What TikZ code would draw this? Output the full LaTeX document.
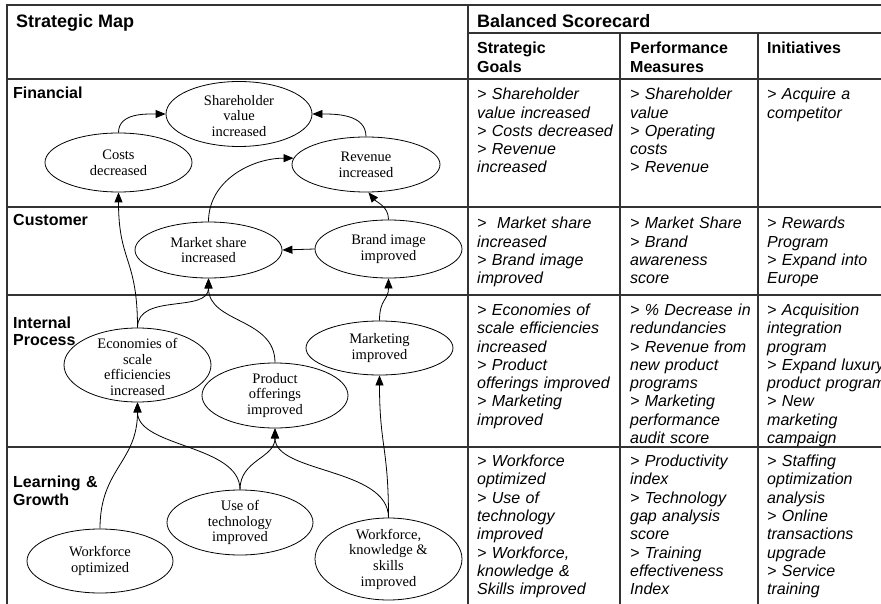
\documentclass[tikz,border=0pt]{standalone}
\usepackage{fontspec}
\setmainfont{Liberation Serif}
\newfontfamily\arialf{Liberation Sans}
\usetikzlibrary{shapes.geometric,arrows.meta}
\begin{document}
\begin{tikzpicture}[x=1pt,y=-1pt,
  ell/.style={draw, ellipse, inner sep=0pt, line width=0.8pt},
  lbl/.style={font=\fontsize{14.5}{15.7}\selectfont, align=center, inner sep=0pt},
  hdr/.style={font=\arialf\bfseries\fontsize{18}{20}\selectfont, anchor=base west, inner sep=0pt},
  rowlbl/.style={font=\arialf\bfseries\fontsize{16}{17.5}\selectfont, anchor=base west, inner sep=0pt, text width=150pt, align=left},
  colhdr/.style={font=\arialf\bfseries\fontsize{16}{18.3}\selectfont, anchor=base west, inner sep=0pt, text width=130pt, align=left},
  cell/.style={font=\arialf\itshape\fontsize{16}{18.3}\selectfont, anchor=base west, inner sep=0pt, text width=200pt, align=left},
  grid/.style={line width=1.4pt, draw=black!80},
  arr/.style={line width=0.8pt, -{Triangle[length=10pt,width=8pt]}}]
\useasboundingbox (0,0) rectangle (881,604);
% table grid
\draw[grid] (7,604) -- (7,5) -- (881,5);
\draw[grid] (468,5) -- (468,604);
\draw[grid] (468,33) -- (881,33);
\draw[grid] (7,79) -- (881,79);
\draw[grid] (620,33) -- (620,604);
\draw[grid] (758,33) -- (758,604);
\draw[grid] (7,207) -- (881,207);
\draw[grid] (7,295) -- (881,295);
\draw[grid] (7,447) -- (881,447);
% headers
\node[hdr] (hmap) at (16,28) {Strategic Map};
\node[hdr] (hbsc) at (477,28) {Balanced Scorecard};
\node[colhdr] (hgoal) at (477,54) {Strategic\\Goals};
\node[colhdr] (hperf) at (630,54) {Performance\\Measures};
\node[colhdr] (hinit) at (767,54) {Initiatives};
% row labels
\node[rowlbl] (rfin) at (13,98.5) {Financial};
\node[rowlbl] (rcus) at (13,225.5) {Customer};
\node[rowlbl] (rint) at (13,328) {Internal\\Process};
\node[rowlbl, font=\arialf\bfseries\fontsize{16}{18}\selectfont] (rlea) at (13,487.5) {Learning \&\\Growth};
% cells
\node[cell] (c11) at (477,99.8) {> Shareholder\\value increased\\> Costs decreased\\> Revenue\\increased};
\node[cell] (c12) at (630,99.8) {> Shareholder\\value\\> Operating\\costs\\> Revenue};
\node[cell] (c13) at (767,99.8) {> Acquire a\\competitor};
\node[cell] (c21) at (477,228.8) {>\ \ Market share\\increased\\> Brand image\\improved};
\node[cell] (c22) at (630,228.8) {> Market Share\\> Brand\\awareness\\score};
\node[cell] (c23) at (767,228.8) {> Rewards\\Program\\> Expand into\\Europe};
\node[cell] (c31) at (477,315.5) {> Economies of\\scale efficiencies\\increased\\> Product\\offerings improved\\> Marketing\\improved};
\node[cell] (c32) at (630,315.5) {> \% Decrease in\\redundancies\\> Revenue from\\new product\\programs\\> Marketing\\performance\\audit score};
\node[cell] (c33) at (767,315.5) {> Acquisition\\integration\\program\\> Expand luxury\\product program\\> New\\marketing\\campaign};
\node[cell] (c41) at (477,466.5) {> Workforce\\optimized\\> Use of\\technology\\improved\\> Workforce,\\knowledge \&\\Skills improved};
\node[cell] (c42) at (630,466.5) {> Productivity\\index\\> Technology\\gap analysis\\score\\> Training\\effectiveness\\Index};
\node[cell] (c43) at (767,466.5) {> Staffing\\optimization\\analysis\\> Online\\transactions\\upgrade\\> Service\\training};
% ellipses
\node[ell, minimum width=146pt, minimum height=65pt] (sh) at (239,114) {};
\node[ell, minimum width=147pt, minimum height=59pt] (cost) at (118.5,162.5) {};
\node[ell, minimum width=148pt, minimum height=55pt] (rev) at (366,164.5) {};
\node[ell, minimum width=147pt, minimum height=56pt] (ms) at (208.5,250) {};
\node[ell, minimum width=147pt, minimum height=58pt] (bi) at (388.5,249) {};
\node[ell, minimum width=147pt, minimum height=74pt] (eco) at (137.5,365) {};
\node[ell, minimum width=146pt, minimum height=65pt] (po) at (275,395.5) {};
\node[ell, minimum width=147pt, minimum height=54pt] (mk) at (379.5,348) {};
\node[ell, minimum width=146pt, minimum height=65pt] (use) at (240,522.5) {};
\node[ell, minimum width=146pt, minimum height=64pt] (wo) at (100,561) {};
\node[ell, minimum width=147pt, minimum height=82pt] (wk) at (388.5,559) {};
% ellipse labels
\node[lbl] (tsh) at ([yshift=-2pt]sh.center) {Shareholder\\value\\increased};
\node[lbl] (tcost) at (cost.center) {Costs\\decreased};
\node[lbl] (trev) at (rev.center) {Revenue\\increased};
\node[lbl] (tms) at (ms.center) {Market share\\increased};
\node[lbl] (tbi) at (bi.center) {Brand image\\improved};
\node[lbl] (teco) at ([yshift=-2pt]eco.center) {Economies of\\scale\\efficiencies\\increased};
\node[lbl] (tpo) at (po.center) {Product\\offerings\\improved};
\node[lbl] (tmk) at (mk.center) {Marketing\\improved};
\node[lbl] (tuse) at (use.center) {Use of\\technology\\improved};
\node[lbl] (two) at (wo.center) {Workforce\\optimized};
\node[lbl] (twk) at (wk.center) {Workforce,\\knowledge \&\\skills\\improved};
% connectors
\draw[arr] (cost.north) to[out=90,in=180] (sh.west);
\draw[arr] (rev.north) to[out=90,in=0] (sh.east);
\draw[arr] (ms.north) to[out=90,in=180] (rev.175);
\draw[arr] (bi.north) to[out=90,in=-50] (rev.-85);
\draw[arr] (bi.west) -- (ms.east);
\draw[arr] (eco.north) .. controls +(0,-70) and +(0,70) .. (cost.south);
\draw[arr] (eco.north) .. controls +(0,-35) and +(0,35) .. (ms.south);
\draw[arr] (po.north) .. controls +(0,-45) and +(0,45) .. (ms.south);
\draw[arr] (mk.north) .. controls +(0,-22) and +(0,22) .. (bi.south);
\draw[arr] (wo.north) .. controls +(0,-60) and +(0,60) .. (eco.south);
\draw[arr] (use.north) .. controls +(0,-45) and +(0,45) .. (eco.south);
\draw[arr] (use.north) .. controls +(0,-30) and +(0,30) .. (po.south);
\draw[arr] (wk.north) .. controls +(0,-50) and +(0,45) .. (po.south);
\draw[arr] (wk.north) .. controls +(0,-70) and +(0,70) .. (mk.south);
\end{tikzpicture}
\end{document}
